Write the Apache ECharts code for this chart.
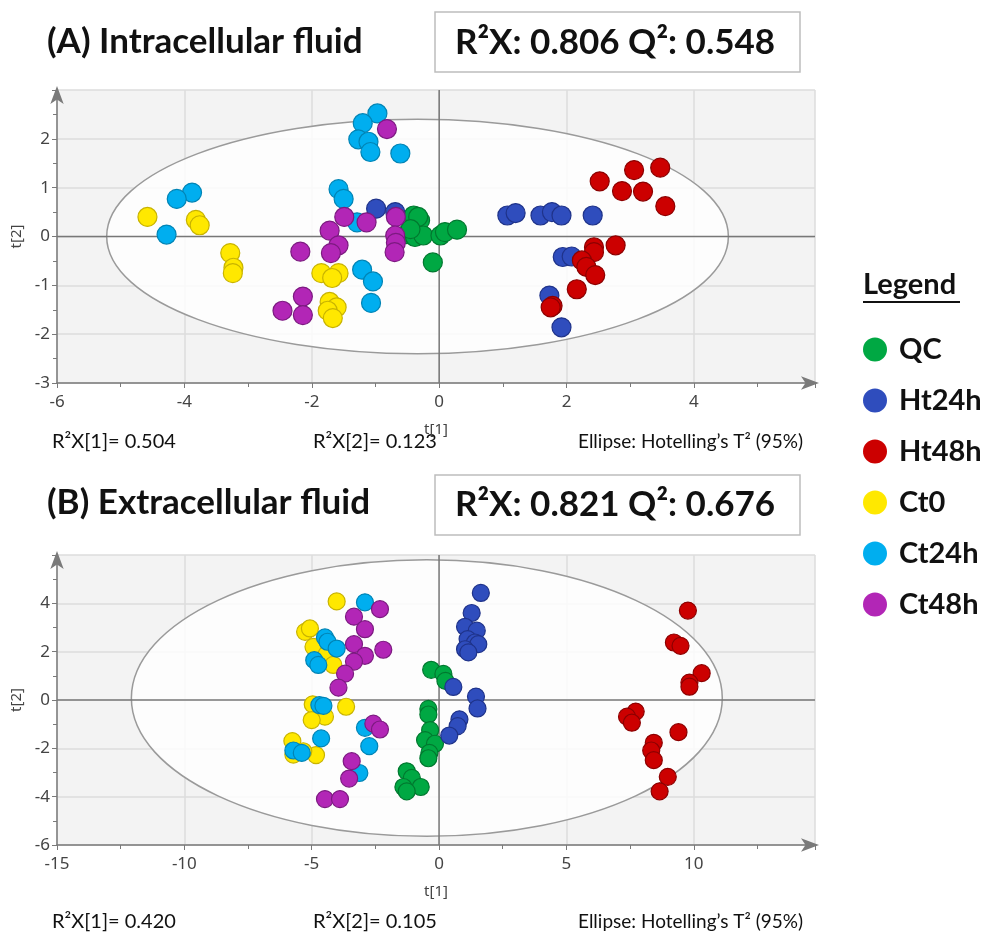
<!DOCTYPE html>
<html><head><meta charset="utf-8">
<script src="https://cdn.jsdelivr.net/npm/echarts@6/dist/echarts.min.js"></script>
<style>html,body{margin:0;padding:0;background:#fff}#c{width:987px;height:937px}</style>
</head><body><div id="c"></div>
<script>
var groups = ['QC','Ht24h','Ht48h','Ct0','Ct24h','Ct48h'];
var fillColors = ['#00a843','#2f4dbd','#cc0000','#ffe800','#00aeef','#b226b6'];
var edgeColors = ['#00782f','#1f338a','#8c0000','#c8b300','#0084b5','#7c1a80'];

// Panel A (intracellular) scores [t1, t2]
var qcA = [[-0.40,0.43],[-0.30,0.33],[-0.33,0.40],[-0.51,0.05],[-0.38,-0.01],[-0.25,0.02],[-0.45,0.15],[0.02,0.02],[0.09,0.09],[0.28,0.14],[-0.10,-0.53]];
var ht24A = [[-0.99,0.57],[-0.69,0.50],[1.07,0.43],[1.20,0.48],[1.59,0.43],[1.77,0.50],[1.92,0.43],[2.41,0.43],[1.94,-0.42],[2.08,-0.41],[1.73,-1.21],[1.92,-1.86]];
var ht48A = [[2.52,1.13],[3.06,1.36],[3.47,1.41],[2.87,0.93],[3.20,0.92],[3.55,0.62],[2.77,-0.18],[2.43,-0.22],[2.43,-0.32],[2.24,-0.49],[2.31,-0.62],[2.45,-0.79],[2.16,-1.08],[1.78,-1.42],[1.75,-1.45]];
var ct0A = [[-4.58,0.40],[-3.82,0.34],[-3.76,0.23],[-3.28,-0.34],[-3.23,-0.64],[-3.24,-0.75],[-1.85,-0.75],[-1.58,-0.75],[-1.68,-0.85],[-1.72,-1.34],[-1.61,-1.45],[-1.75,-1.52],[-1.67,-1.67]];
var ct24A = [[-0.97,2.52],[-1.20,2.32],[-1.27,1.99],[-1.11,1.94],[-1.08,1.73],[-0.61,1.70],[-3.88,0.90],[-4.12,0.77],[-4.28,0.04],[-1.58,0.97],[-1.50,0.77],[-1.29,0.29],[-1.21,-0.68],[-1.04,-0.92],[-1.07,-1.36]];
var ct48A = [[-0.82,2.20],[-1.49,0.40],[-1.14,0.29],[-1.72,0.12],[-1.58,-0.18],[-1.70,-0.34],[-2.18,-0.31],[-0.68,0.40],[-0.69,0.02],[-0.68,-0.13],[-0.70,-0.32],[-2.14,-1.23],[-2.46,-1.52],[-2.14,-1.61]];

// Panel B (extracellular) scores [t1, t2]
var qcB = [[-0.31,1.25],[0.17,1.08],[0.25,0.79],[-0.42,-0.37],[-0.42,-0.60],[-0.35,-1.25],[-0.55,-1.66],[-0.16,-1.81],[-0.38,-2.19],[-0.42,-2.41],[-1.27,-2.95],[-1.07,-3.22],[-0.72,-3.60],[-1.40,-3.60],[-1.27,-3.78]];
var ht24B = [[1.64,4.43],[1.28,3.60],[1.02,3.03],[1.48,2.87],[1.12,2.52],[1.41,2.38],[1.54,2.31],[1.02,2.10],[1.15,1.97],[0.56,0.54],[1.45,0.14],[1.51,-0.35],[0.80,-0.80],[0.73,-1.08],[0.40,-1.47]];
var ht48B = [[9.77,3.70],[9.22,2.38],[9.48,2.24],[10.31,1.11],[9.83,0.72],[9.83,0.55],[7.72,-0.48],[7.38,-0.69],[7.57,-0.94],[9.40,-1.33],[8.43,-1.77],[8.33,-2.09],[8.43,-2.49],[8.98,-3.18],[8.66,-3.78]];
var ct0B = [[-4.02,4.08],[-5.26,2.82],[-5.07,2.96],[-4.93,2.20],[-4.41,1.90],[-4.15,1.45],[-4.96,-0.18],[-4.48,-0.69],[-5.00,-0.83],[-3.65,-0.28],[-5.76,-1.70],[-5.72,-2.26],[-4.83,-2.28],[-5.33,-2.12]];
var ct24B = [[-2.91,4.04],[-4.48,2.59],[-4.38,2.41],[-4.02,2.13],[-4.90,1.65],[-4.74,1.45],[-4.70,-0.21],[-4.54,-0.24],[-4.63,-1.59],[-5.72,-2.09],[-5.39,-2.19],[-2.91,-1.15],[-2.74,-1.91],[-3.13,-3.02]];
var ct48B = [[-2.32,3.76],[-3.34,3.45],[-2.91,2.93],[-3.34,2.31],[-2.19,2.08],[-2.91,1.83],[-3.34,1.59],[-3.69,1.09],[-3.95,0.51],[-2.58,-0.98],[-2.32,-1.22],[-3.43,-2.53],[-3.53,-3.25],[-4.48,-4.10],[-3.89,-4.10]];

// Hotelling T2 ellipses: [centre t1, centre t2, semi-axis t1, semi-axis t2]
var ellipseA = [-0.34, 0, 4.88, 2.40];
var ellipseB = [-0.48, 0.08, 11.6, 5.72];

// Axis extents and tick intervals
var axisA = {xMin:-6, xMax:5.9, xInt:2, yMin:-3, yMax:3, yInt:1};
var axisB = {xMin:-15, xMax:14.76, xInt:5, yMin:-6, yMax:6, yInt:2};

var titleA = '(A) Intracellular fluid', statsA = 'R²X: 0.806 Q²: 0.548';
var titleB = '(B) Extracellular fluid', statsB = 'R²X: 0.821 Q²: 0.676';
var footA = ['R²X[1]= 0.504','R²X[2]= 0.123','Ellipse: Hotelling’s T² (95%)'];
var footB = ['R²X[1]= 0.420','R²X[2]= 0.105','Ellipse: Hotelling’s T² (95%)'];

var dataA = [qcA, ht24A, ht48A, ct0A, ct24A, ct48A];
var dataB = [qcB, ht24B, ht48B, ct0B, ct24B, ct48B];

var TF = 'Lato, "Open Sans", sans-serif';
var LF = '"Noto Sans", "DejaVu Sans", sans-serif';

function xAxisOf(ax, idx){
  return {type:'value', gridIndex:idx, min:ax.xMin, max:ax.xMax, interval:ax.xInt,
    name:'t[1]', nameLocation:'middle', nameGap:39, nameTextStyle:{fontFamily:LF,fontSize:15,color:'#444'},
    axisLine:{onZero:false, lineStyle:{color:'#7a7a7a',width:1.5}, symbol:['none','arrow'], symbolSize:[10,18], symbolOffset:[0,4]},
    axisTick:{show:true, length:5, lineStyle:{color:'#7a7a7a'}},
    minorTick:{show:true, splitNumber:2, length:4, lineStyle:{color:'#7a7a7a'}},
    axisLabel:{fontFamily:LF, fontSize:17, color:'#444', margin:11, showMaxLabel:false},
    splitLine:{show:true, lineStyle:{color:'#dcdcdc', width:1.5}}};
}
function yAxisOf(ax, idx){
  return {type:'value', gridIndex:idx, min:ax.yMin, max:ax.yMax, interval:ax.yInt,
    name:'t[2]', nameLocation:'middle', nameGap:31, nameRotate:90, nameTextStyle:{fontFamily:LF,fontSize:15,color:'#444'},
    axisLine:{onZero:false, lineStyle:{color:'#7a7a7a',width:1.5}, symbol:['none','arrow'], symbolSize:[10,18], symbolOffset:[0,4]},
    axisTick:{show:true, length:5, lineStyle:{color:'#7a7a7a'}},
    minorTick:{show:true, splitNumber:2, length:4, lineStyle:{color:'#7a7a7a'}},
    axisLabel:{fontFamily:LF, fontSize:17, color:'#444', margin:7, showMaxLabel:false},
    splitLine:{show:true, lineStyle:{color:'#dcdcdc', width:1.5}}};
}

function backdrop(ell, idx){
  return {type:'custom', xAxisIndex:idx, yAxisIndex:idx, silent:true, z:1, clip:true,
    data:[ell],
    renderItem:function(params, api){
      var cs = params.coordSys;
      var c = api.coord([api.value(0), api.value(1)]);
      var p = api.coord([api.value(0)+api.value(2), api.value(1)+api.value(3)]);
      var o = api.coord([0,0]);
      return {type:'group', children:[
        {type:'ellipse', shape:{cx:c[0], cy:c[1], rx:p[0]-c[0], ry:c[1]-p[1]},
         style:{fill:'rgba(255,255,255,0.82)', stroke:'#9a9a9a', lineWidth:1.5}},
        {type:'line', shape:{x1:cs.x, y1:o[1], x2:cs.x+cs.width, y2:o[1]}, style:{stroke:'#777', lineWidth:1.5}},
        {type:'line', shape:{x1:o[0], y1:cs.y, x2:o[0], y2:cs.y+cs.height}, style:{stroke:'#777', lineWidth:1.5}}
      ]};
    }};
}

var series = [backdrop(ellipseA,0), backdrop(ellipseB,1)];
[dataA, dataB].forEach(function(set, idx){
  set.forEach(function(d, g){
    series.push({type:'scatter', name:groups[g], xAxisIndex:idx, yAxisIndex:idx, z:2+g,
      data:d, symbol:'circle', symbolSize: idx===0 ? 19 : 17,
      itemStyle:{color:fillColors[g], borderColor:edgeColors[g], borderWidth:1.2, opacity:1},
      emphasis:{disabled:true}});
  });
});

function txt(x, y, s, font, size, weight, align){
  return {type:'text', x:x, y:y, silent:true, style:{text:s, fontFamily:font, fontSize:size, fontWeight:weight||'normal', fill:'#111', textAlign:align||'left', textVerticalAlign:'middle'}};
}

var graphics = [
  txt(47, 42, titleA, TF, 35, 'bold'),
  {type:'rect', shape:{x:435, y:12, width:365, height:60}, style:{fill:'none', stroke:'#bdbdbd', lineWidth:1.5}, silent:true},
  txt(615, 43, statsA, TF, 35, 'bold', 'center'),
  txt(47, 503, titleB, TF, 35, 'bold'),
  {type:'rect', shape:{x:435, y:475, width:365, height:60}, style:{fill:'none', stroke:'#bdbdbd', lineWidth:1.5}, silent:true},
  txt(615, 505, statsB, TF, 35, 'bold', 'center'),
  txt(52, 442, footA[0], TF, 20), txt(313, 442, footA[1], TF, 20), txt(578, 442, footA[2], TF, 19),
  txt(52, 922, footB[0], TF, 20), txt(313, 922, footB[1], TF, 20), txt(578, 922, footB[2], TF, 19),
  txt(863, 285, 'Legend', TF, 29, 'bold'),
  {type:'line', shape:{x1:863, y1:302, x2:960, y2:302}, style:{stroke:'#111', lineWidth:2}, silent:true}
];

var chart = echarts.init(document.getElementById('c'));
chart.setOption({
  animation:false,
  backgroundColor:'#fff',
  grid:[
    {left:57, top:90, width:758, height:293, show:true, backgroundColor:'#f3f3f3', borderWidth:0},
    {left:57, top:555, width:758, height:290, show:true, backgroundColor:'#f3f3f3', borderWidth:0}
  ],
  xAxis:[xAxisOf(axisA,0), xAxisOf(axisB,1)],
  yAxis:[yAxisOf(axisA,0), yAxisOf(axisB,1)],
  legend:{data:groups, orient:'vertical', left:858, top:330, itemWidth:38, itemHeight:24, itemGap:22,
    icon:'circle', selectedMode:false, itemStyle:{borderWidth:0},
    textStyle:{fontFamily:TF, fontSize:29, fontWeight:'bold', color:'#111'}},
  series:series,
  graphic:graphics
});
</script></body></html>
